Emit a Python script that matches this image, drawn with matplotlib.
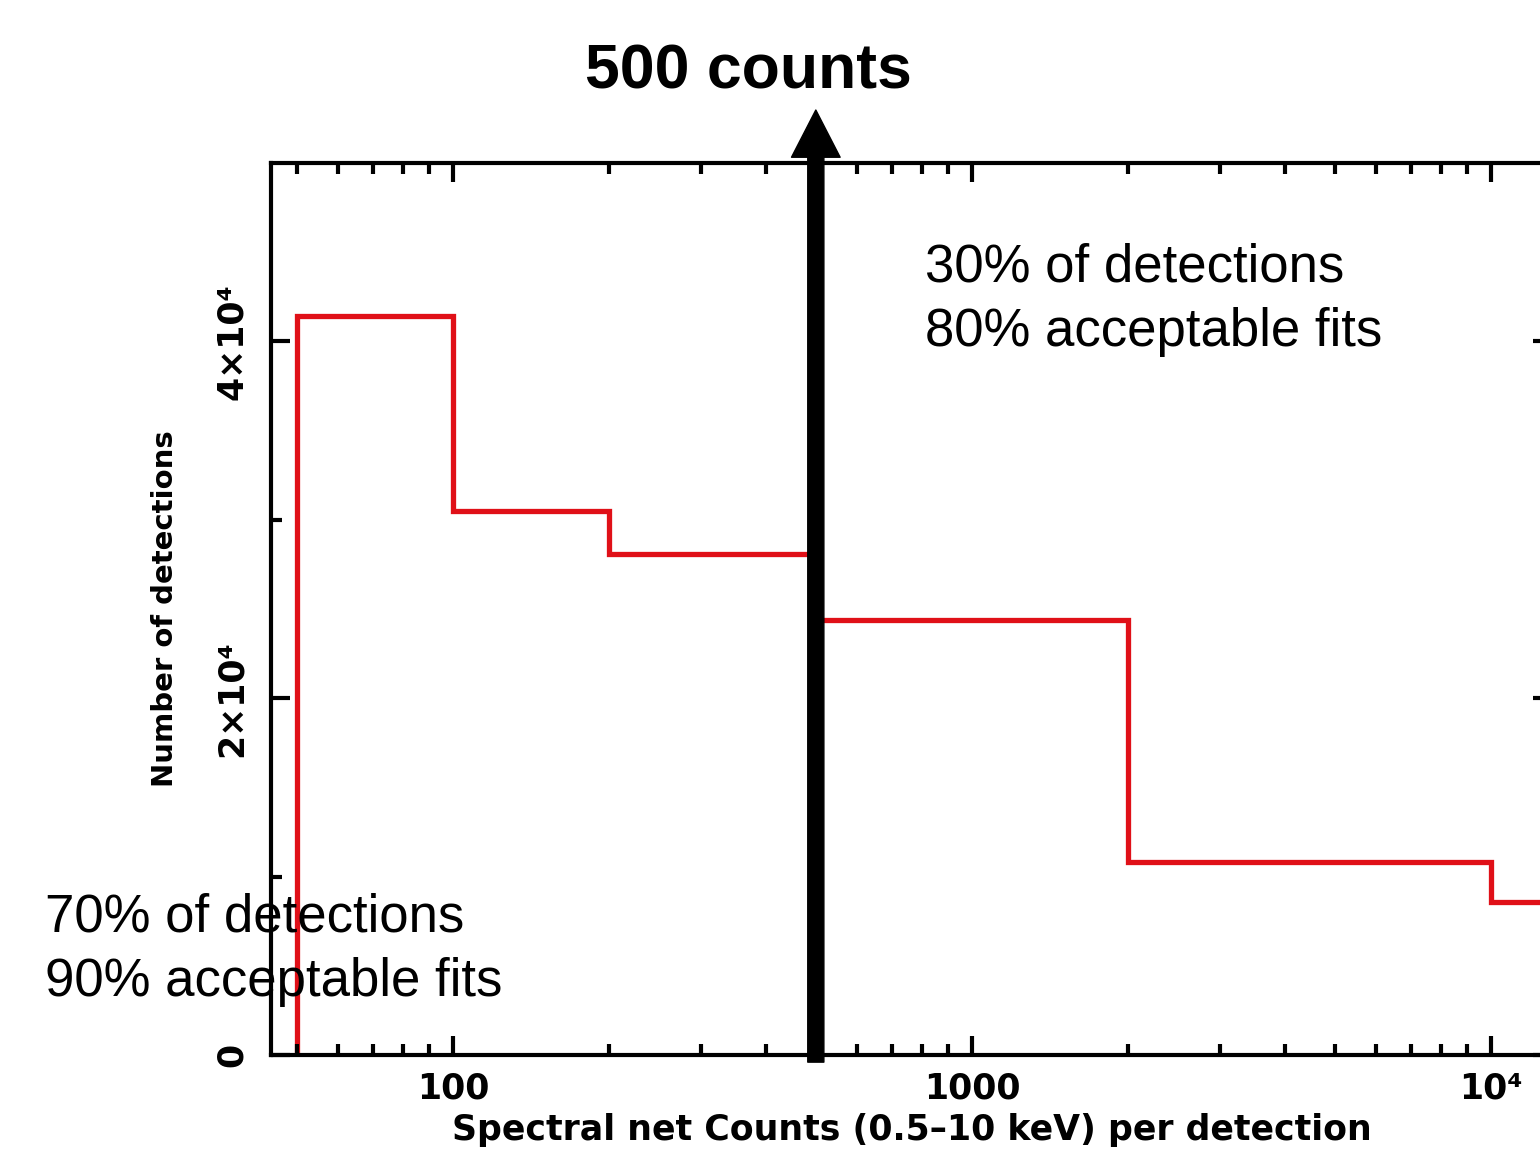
import matplotlib
matplotlib.use('Agg')
import matplotlib.pyplot as plt
from matplotlib.ticker import FixedLocator, NullFormatter

# histogram of spectral net counts per detection
bin_edges = [50, 100, 200, 500, 2000, 10000, 20000]
counts = [41400, 30500, 28100, 24400, 10800, 8600]

xticks = [100, 1000, 10000]
xticklabels = ['100', '1000', '10⁴']
yticks = [0, 20000, 40000]
yticklabels = ['0', '2×10⁴', '4×10⁴']

cut = 500
title = '500 counts'
left_note = ['70% of detections', '90% acceptable fits']
right_note = ['30% of detections', '80% acceptable fits']

W, H = 1540, 1152
fig = plt.figure(figsize=(15.4, 11.52), dpi=100)
ax = fig.add_axes([271 / W, 97 / H, 1281 / W, 892 / H])
ax.set_xscale('log')
ax.set_xlim(44.6, 13100)
ax.set_ylim(0, 50000)

ax.stairs(counts, bin_edges, baseline=0, color='#e01018', linewidth=3.8)

for s in ax.spines.values():
    s.set_linewidth(3)
ax.xaxis.set_major_locator(FixedLocator(xticks))
ax.set_xticklabels(xticklabels)
ax.xaxis.set_minor_locator(FixedLocator([m * 10 ** d for d in range(1, 5) for m in range(2, 10)]))
ax.xaxis.set_minor_formatter(NullFormatter())
ax.set_yticks(yticks)
ax.set_yticklabels(yticklabels, rotation=90, va='center')
ax.yaxis.set_minor_locator(FixedLocator([10000, 30000]))
ax.tick_params(which='both', direction='in', top=True, right=True, width=3)
ax.tick_params(which='major', length=14)
ax.tick_params(which='minor', length=8)
ax.tick_params(axis='x', labelsize=25, pad=12)
ax.tick_params(axis='y', labelsize=25, pad=16)
for lab in ax.get_xticklabels() + ax.get_yticklabels():
    lab.set_fontweight('bold')

ax.set_xlabel('Spectral net Counts (0.5–10 keV) per detection', fontsize=25,
              fontweight='bold', labelpad=5)
ax.set_ylabel('Number of detections', fontsize=21, fontweight='bold', labelpad=26)

# the 500 counts divider
ax.annotate('', xy=(cut, 1.0594), xytext=(cut, -0.008),
            xycoords=('data', 'axes fraction'), textcoords=('data', 'axes fraction'),
            arrowprops=dict(arrowstyle='simple,head_width=1.75,head_length=1.7,tail_width=0.58',
                            mutation_scale=20, color='black', shrinkA=0, shrinkB=0),
            annotation_clip=False)

fig.text(748 / W, 1 - 72 / H, title, ha='center', va='center', fontsize=45,
         fontweight='bold', family='Liberation Sans')
for i, line in enumerate(right_note):
    fig.text(925 / W, 1 - (268 + 64 * i) / H, line, ha='left', va='center',
             fontsize=38, family='Liberation Sans')
for i, line in enumerate(left_note):
    fig.text(45 / W, 1 - (918 + 64 * i) / H, line, ha='left', va='center',
             fontsize=38, family='Liberation Sans')

fig.savefig('out.png', dpi=100)
